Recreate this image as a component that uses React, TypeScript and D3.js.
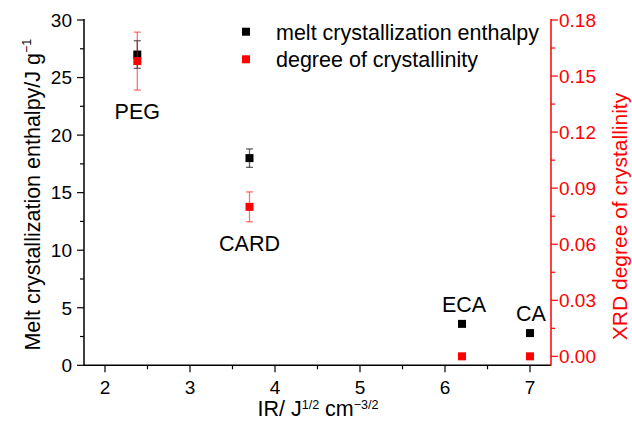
import React from "react";
import * as d3 from "d3";

// Samples and their values
const samples = ["PEG", "CARD", "ECA", "CA"];
const irValues = [2.38, 3.7, 6.2, 7.0];
const enthalpy = [27.0, 18.0, 3.6, 2.8];
const enthalpyErr = [1.2, 0.8, 0, 0];
const crystallinity = [0.158, 0.08, 0.0, 0.0];
const crystallinityErr = [0.0155, 0.008, 0, 0];

const xTicks = [2, 3, 4, 5, 6, 7];
const xMinorTicks = [2.5, 3.5, 4.5, 5.5, 6.5];
const yTicks = [0, 5, 10, 15, 20, 25, 30];
const yMinorTicks = [2.5, 7.5, 12.5, 17.5, 22.5, 27.5];
const y2Ticks = [0, 0.03, 0.06, 0.09, 0.12, 0.15, 0.18];
const y2MinorTicks = [0.015, 0.045, 0.075, 0.105, 0.135, 0.165];

// Label offsets per sample (pixels)
const labelDx = [0, 0, 2, 1];
const labelYs = [119, 250.7, 311.7, 321];

const W = 632;
const H = 421;
const left = 84;
const right = 551;
const top = 20;
const bottom = 365.3;

const FONT = "'Liberation Sans', Arial, Helvetica, sans-serif";
const RED = "#ff0000";
const TICK_FS = 19;
const FS = 21.5;
const SUP_FS = 12.5;

export default function App() {
  const x = d3.scaleLinear().domain([1.753, 7.247]).range([left, right]);
  const y = d3.scaleLinear().domain([0, 30]).range([bottom, top]);
  const y2 = d3
    .scaleLinear()
    .domain([-0.0048, 0.18])
    .range([bottom, top]);

  const ms = 8;
  const cap = 3.5;

  return (
    <svg
      width={W}
      height={H}
      style={{ position: "absolute", left: 0, top: 0 }}
      fontFamily={FONT}
    >
      <rect width={W} height={H} fill="#fff" />

      {/* left axis */}
      <line x1={left} x2={left} y1={top - 1} y2={bottom + 0.5} stroke="#000" strokeWidth={1.5} />
      {yTicks.map((t) => (
        <g key={"y" + t}>
          <line x1={left - 7} x2={left} y1={y(t)} y2={y(t)} stroke="#000" strokeWidth={1.2} />
          <text x={left - 12} y={y(t) + 6.8} fontSize={TICK_FS} textAnchor="end">
            {t}
          </text>
        </g>
      ))}
      {yMinorTicks.map((t) => (
        <line key={"ym" + t} x1={left - 4} x2={left} y1={y(t)} y2={y(t)} stroke="#000" strokeWidth={1.2} />
      ))}

      {/* bottom axis */}
      <line x1={left} x2={right} y1={bottom} y2={bottom} stroke="#000" strokeWidth={1.5} />
      {xTicks.map((t) => (
        <g key={"x" + t}>
          <line x1={x(t)} x2={x(t)} y1={bottom} y2={bottom + 7} stroke="#000" strokeWidth={1.2} />
          <text x={x(t)} y={bottom + 29} fontSize={TICK_FS} textAnchor="middle">
            {t}
          </text>
        </g>
      ))}
      {xMinorTicks.map((t) => (
        <line key={"xm" + t} x1={x(t)} x2={x(t)} y1={bottom} y2={bottom + 4} stroke="#000" strokeWidth={1.2} />
      ))}

      {/* right axis */}
      <line x1={right} x2={right} y1={top - 1} y2={bottom + 0.5} stroke={RED} strokeWidth={1.5} />
      {y2Ticks.map((t) => (
        <g key={"y2" + t}>
          <line x1={right} x2={right + 7} y1={y2(t)} y2={y2(t)} stroke={RED} strokeWidth={1.2} />
          <text x={right + 8} y={y2(t) + 6.8} fontSize={TICK_FS} fill={RED}>
            {d3.format(".2f")(t)}
          </text>
        </g>
      ))}
      {y2MinorTicks.map((t) => (
        <line key={"y2m" + t} x1={right} x2={right + 4} y1={y2(t)} y2={y2(t)} stroke={RED} strokeWidth={1.2} />
      ))}

      {/* axis titles */}
      <text
        transform={`translate(39.5, ${(top + bottom) / 2 + 2}) rotate(-90)`}
        fontSize={FS}
        textAnchor="middle"
      >
        Melt crystallization enthalpy/J g
        <tspan dy={-9} fontSize={SUP_FS}>−1</tspan>
      </text>
      <text
        transform={`translate(626.5, 216.5) rotate(-90)`}
        fontSize={21}
        textAnchor="middle"
        fill={RED}
      >
        XRD degree of crystallinity
      </text>
      <text x={318} y={416} fontSize={FS} textAnchor="middle">
        IR/ J
        <tspan dy={-7} fontSize={SUP_FS}>1/2</tspan>
        <tspan dy={7}> cm</tspan>
        <tspan dy={-7} fontSize={SUP_FS}>−3/2</tspan>
      </text>

      {/* enthalpy series */}
      {irValues.map((v, i) => (
        <rect
          key={"b" + i}
          x={x(v) - ms / 2}
          y={y(enthalpy[i]) - ms / 2}
          width={ms}
          height={ms}
          fill="#000"
        />
      ))}
      {irValues.map((v, i) =>
        enthalpyErr[i] > 0 ? (
          <g key={"be" + i} stroke="#000" strokeOpacity={0.6} strokeWidth={1.3}>
            <line x1={x(v)} x2={x(v)} y1={y(enthalpy[i] + enthalpyErr[i])} y2={y(enthalpy[i] - enthalpyErr[i])} />
            <line x1={x(v) - cap} x2={x(v) + cap} y1={y(enthalpy[i] + enthalpyErr[i])} y2={y(enthalpy[i] + enthalpyErr[i])} />
            <line x1={x(v) - cap} x2={x(v) + cap} y1={y(enthalpy[i] - enthalpyErr[i])} y2={y(enthalpy[i] - enthalpyErr[i])} />
          </g>
        ) : null
      )}

      {/* crystallinity series */}
      {irValues.map((v, i) => (
        <rect
          key={"r" + i}
          x={x(v) - ms / 2}
          y={y2(crystallinity[i]) - ms / 2}
          width={ms}
          height={ms}
          fill={RED}
        />
      ))}
      {irValues.map((v, i) =>
        crystallinityErr[i] > 0 ? (
          <g key={"re" + i} stroke={RED} strokeOpacity={0.55} strokeWidth={1.3}>
            <line x1={x(v)} x2={x(v)} y1={y2(crystallinity[i] + crystallinityErr[i])} y2={y2(crystallinity[i] - crystallinityErr[i])} />
            <line x1={x(v) - cap} x2={x(v) + cap} y1={y2(crystallinity[i] + crystallinityErr[i])} y2={y2(crystallinity[i] + crystallinityErr[i])} />
            <line x1={x(v) - cap} x2={x(v) + cap} y1={y2(crystallinity[i] - crystallinityErr[i])} y2={y2(crystallinity[i] - crystallinityErr[i])} />
          </g>
        ) : null
      )}

      {/* sample labels */}
      {samples.map((s, i) => (
        <text key={s} x={x(irValues[i]) + labelDx[i]} y={labelYs[i]} fontSize={FS} textAnchor="middle">
          {s}
        </text>
      ))}

      {/* legend */}
      <rect x={246 - ms / 2} y={31.7 - ms / 2} width={ms} height={ms} fill="#000" />
      <text x={276} y={40} fontSize={FS}>
        melt crystallization enthalpy
      </text>
      <rect x={246 - ms / 2} y={59.3 - ms / 2} width={ms} height={ms} fill={RED} />
      <text x={276} y={67} fontSize={FS}>
        degree of crystallinity
      </text>
    </svg>
  );
}
